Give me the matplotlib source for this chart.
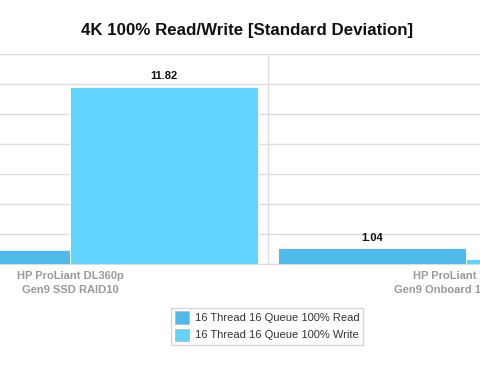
import matplotlib
matplotlib.use("Agg")
import matplotlib.pyplot as plt
import numpy as np

plt.rcParams["font.family"] = ["Liberation Sans", "DejaVu Sans"]

# data (only part of the full chart is visible)
categories = ["HP ProLiant DL360p\nGen9 SSD RAID10", "HP ProLiant DL360p\nGen9 Onboard 10K RAID10"]
series = ["16 Thread 16 Queue 100% Read", "16 Thread 16 Queue 100% Write"]
read_vals = [0.91, 1.04]
write_vals = [11.82, 0.33]
colors = ["#4fb9ea", "#62d5fe"]

fig = plt.figure(figsize=(4.8, 3.78), dpi=100)
ax = fig.add_axes([0, (378 - 264) / 378, 1, 210 / 378])

x = np.arange(len(categories))
w = 0.475
xlim = (-70 / 396, 410 / 396)
bars_r = ax.bar(x - w / 2, read_vals, w, color=colors[0], edgecolor="white", linewidth=0.6, label=series[0], zorder=3)
bars_w = ax.bar(x + w / 2, write_vals, w, color=colors[1], edgecolor="white", linewidth=0.6, label=series[1], zorder=3)

# value labels, only for bars whose centre is inside the visible window
for bars in (bars_r, bars_w):
    for b in bars:
        cx = b.get_x() + b.get_width() / 2
        if not (xlim[0] + 0.05 < cx < xlim[1] - 0.05):
            continue
        ax.text(cx, b.get_height() + 0.35, f"{b.get_height():.2f}",
                ha="center", va="bottom", fontsize=8, fontweight="bold", color="#111111")

ax.set_xlim(*xlim)
ax.set_ylim(0, 14)
ax.set_yticks(np.arange(0, 15, 2))
ax.yaxis.grid(True, color="#dddddd", linewidth=1, zorder=0)
ax.axvline(0.5, color="#dddddd", linewidth=1, zorder=0)
ax.tick_params(axis="y", left=False, labelleft=False)
ax.tick_params(axis="x", length=0, pad=5)
ax.set_xticks(x)
ax.set_xticklabels(categories, fontsize=8, fontweight="bold", color="#999999", linespacing=1.45)
for s in ["left", "right", "top"]:
    ax.spines[s].set_visible(False)
ax.spines["bottom"].set_color("#dddddd")

fig.text(247 / 480, 1 - 30 / 378, "4K 100% Read/Write [Standard Deviation]", ha="center", va="center",
         fontsize=12.2, fontweight="bold", color="#111111")

leg = fig.legend(handles=[bars_r, bars_w], labels=series, loc="center", bbox_to_anchor=(267 / 480, 1 - 326 / 378),
                 fontsize=8, frameon=True, fancybox=False, edgecolor="#cccccc",
                 handlelength=1.3, handleheight=1.3, handletextpad=0.5, labelspacing=0.45, borderpad=0.35)
for t in leg.get_texts():
    t.set_color("#333333")
for h in leg.legend_handles:
    h.set_edgecolor("#bbbbbb")

fig.savefig("out.png", dpi=100)
